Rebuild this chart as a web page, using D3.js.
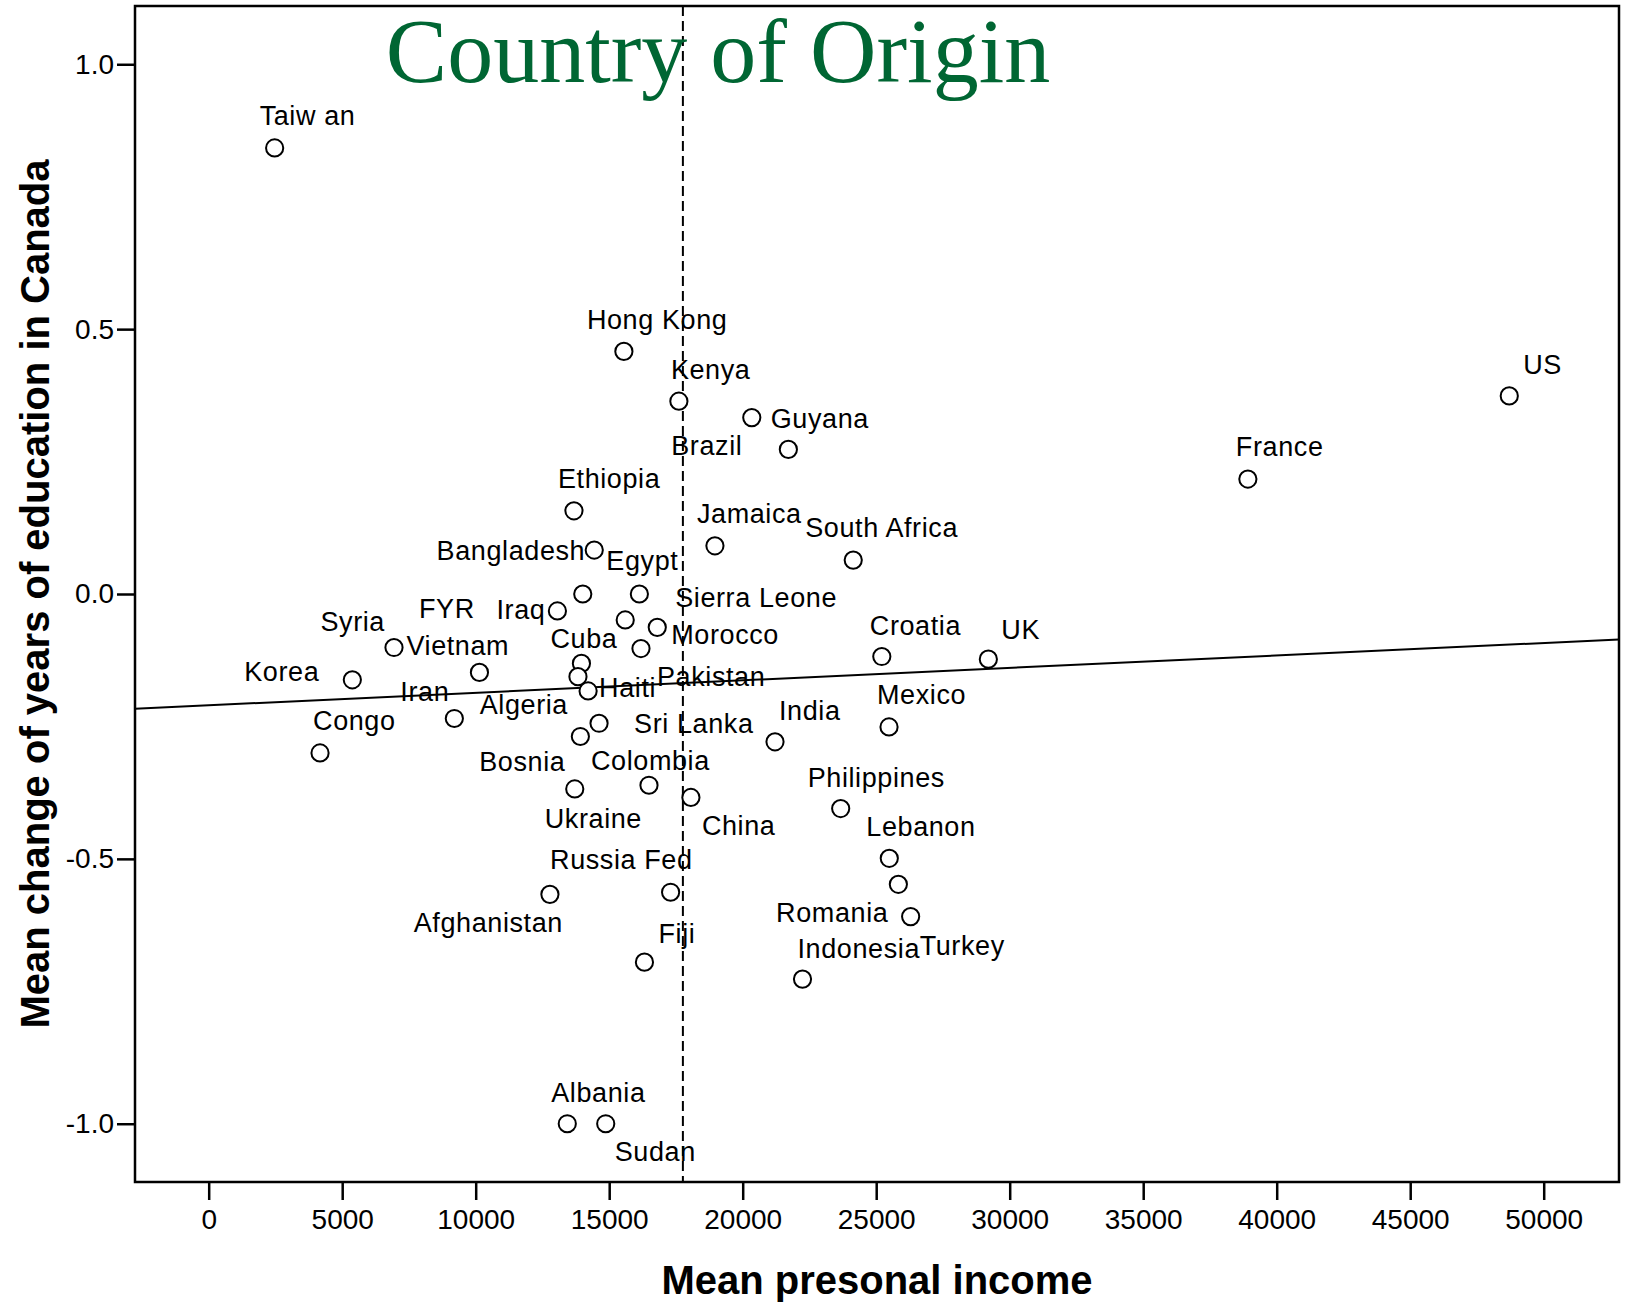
<!DOCTYPE html>
<html>

<head>
    <meta charset="utf-8">
    <title>Country of Origin</title>
    <script src="https://d3js.org/d3.v7.min.js"></script>
    <style>
        body {
            margin: 0;
            background: white;
        }

        .axis text {
            font-family: "Liberation Sans", Arial, sans-serif;
            font-size: 28px;
            fill: black;
        }

        .axis line {
            stroke: black;
            stroke-width: 2.5px;
        }

        .frame {
            fill: none;
            stroke: black;
            stroke-width: 2.5px;
        }

        .dot {
            fill: white;
            stroke: black;
            stroke-width: 2px;
        }

        .label {
            font-family: "Liberation Sans", Arial, sans-serif;
            font-size: 27px;
            letter-spacing: 0.6px;
            fill: black;
        }

        .axis-title {
            font-family: "Liberation Sans", Arial, sans-serif;
            font-size: 40px;
            font-weight: bold;
            fill: black;
        }

        .title {
            font-family: "Liberation Serif", "Times New Roman", serif;
            font-size: 92px;
            fill: #006633;
        }

        .fit {
            stroke: black;
            stroke-width: 2px;
        }

        .mean {
            stroke: black;
            stroke-width: 2px;
            stroke-dasharray: 10, 5;
        }
    </style>
</head>

<body>
    <script>
        // values
        const countries = ["Taiw an", "Hong Kong", "Kenya", "Guyana", "Brazil", "US", "France", "Ethiopia",
            "Jamaica", "South Africa", "Bangladesh", "FYR", "Egypt", "Iraq", "Sierra Leone", "Morocco",
            "Syria", "Vietnam", "Cuba", "Pakistan", "Korea", "Algeria", "Haiti", "Iran", "Sri Lanka",
            "Bosnia", "Congo", "India", "Mexico", "Croatia", "UK", "Ukraine", "Colombia", "China",
            "Philippines", "Lebanon", "Romania", "Turkey", "Indonesia", "Afghanistan", "Russia Fed",
            "Fiji", "Albania", "Sudan"];

        const income = [2470, 15550, 17610, 20340, 21710, 48710, 38920, 13680,
            18960, 24140, 14440, 14010, 16130, 13060, 15600, 16800,
            6940, 10140, 13960, 16190, 5380, 13830, 14210, 9200, 14620,
            13920, 4170, 21210, 25480, 25210, 29200, 13710, 16490, 18060,
            23670, 25490, 25830, 26290, 22240, 12780, 17300,
            16320, 13430, 14870];

        const eduChange = [0.842, 0.458, 0.364, 0.333, 0.273, 0.374, 0.217, 0.157,
            0.091, 0.064, 0.083, 0.000, 0.000, -0.032, -0.049, -0.063,
            -0.101, -0.148, -0.131, -0.103, -0.162, -0.156, -0.183, -0.235, -0.244,
            -0.269, -0.300, -0.279, -0.251, -0.118, -0.123, -0.368, -0.361, -0.384,
            -0.405, -0.499, -0.548, -0.609, -0.727, -0.567, -0.563,
            -0.695, -1.000, -1.000];

        const xTicks = [0, 5000, 10000, 15000, 20000, 25000, 30000, 35000, 40000, 45000, 50000];
        const yTicks = [-1.0, -0.5, 0.0, 0.5, 1.0];

        // fit line and mean income line
        const fitIntercept = -0.210;
        const fitSlope = 0.00000235;
        const meanIncome = 17760;

        // where each label sits next to its point: [dx, dy, anchor]
        const labelPlace = [[-15, -23, "start"], [-37, -22, "start"], [-8, -22, "start"], [19, 10, "start"],
            [-46, 6, "end"], [14, -22, "start"], [-12, -23, "start"], [-16, -23, "start"],
            [-18, -23, "start"], [-48, -23, "start"], [-9, 10, "end"], [-108, 24, "end"],
            [-33, -24, "start"], [-12, 8, "end"], [50, -13, "start"], [14, 17, "start"],
            [-9, -17, "end"], [-73, -17, "start"], [-31, -15, "start"], [16, 37, "start"],
            [-33, 1, "end"], [-10, 37, "end"], [11, 6, "start"], [-54, -17, "start"], [35, 10, "start"],
            [-15, 35, "end"], [-7, -23, "start"], [4, -22, "start"], [-12, -23, "start"],
            [-12, -22, "start"], [13, -20, "start"], [-30, 39, "start"], [-58, -15, "start"],
            [11, 38, "start"], [-33, -22, "start"], [-23, -22, "start"], [-10, 38, "end"],
            [9, 38, "start"], [-5, -21, "start"], [13, 38, "end"], [22, -23, "end"],
            [14, -19, "start"], [-16, -22, "start"], [9, 37, "start"]];

        let width = 1626;
        let height = 1304;
        let plotLeft = 135, plotRight = 1619, plotTop = 6, plotBottom = 1182;

        let data = countries.map((c, i) => ({ name: c, income: income[i], edu: eduChange[i], place: labelPlace[i] }));

        let svg = d3.select('body').append('svg')
            .attr('width', width)
            .attr('height', height);

        let x_scale = d3.scaleLinear()
            .domain([-2760, 52820])
            .range([plotLeft, plotRight]);

        let y_scale = d3.scaleLinear()
            .domain([-1.11, 1.11])
            .range([plotBottom, plotTop]);

        // axes
        let x_axis = d3.axisBottom(x_scale)
            .tickValues(xTicks)
            .tickFormat(d => String(d))
            .tickSize(18)
            .tickPadding(9);
        svg.append("g")
            .attr("class", "x axis")
            .attr("transform", "translate(0," + plotBottom + ")")
            .call(x_axis)
            .call(g => g.select(".domain").remove());

        let y_axis = d3.axisLeft(y_scale)
            .tickValues(yTicks)
            .tickFormat(d => d.toFixed(1))
            .tickSize(18)
            .tickPadding(3);
        svg.append("g")
            .attr("class", "y axis")
            .attr("transform", "translate(" + plotLeft + ",0)")
            .call(y_axis)
            .call(g => g.select(".domain").remove());

        svg.selectAll(".axis").attr("font-family", null).attr("font-size", null);

        // mean income, dashed
        svg.append("line")
            .attr("class", "mean")
            .attr("x1", x_scale(meanIncome))
            .attr("x2", x_scale(meanIncome))
            .attr("y1", plotTop)
            .attr("y2", plotBottom);

        // linear fit across the whole frame
        let xd = x_scale.domain();
        svg.append("line")
            .attr("class", "fit")
            .attr("x1", x_scale(xd[0]))
            .attr("y1", y_scale(fitIntercept + fitSlope * xd[0]))
            .attr("x2", x_scale(xd[1]))
            .attr("y2", y_scale(fitIntercept + fitSlope * xd[1]));

        // frame
        svg.append("rect")
            .attr("class", "frame")
            .attr("x", plotLeft)
            .attr("y", plotTop)
            .attr("width", plotRight - plotLeft)
            .attr("height", plotBottom - plotTop);

        // points
        svg.selectAll("circle.dot")
            .data(data)
            .join("circle")
            .attr("class", "dot")
            .attr("cx", d => x_scale(d.income))
            .attr("cy", d => y_scale(d.edu))
            .attr("r", 8.6);

        svg.selectAll("text.label")
            .data(data)
            .join("text")
            .attr("class", "label")
            .attr("x", d => x_scale(d.income) + d.place[0])
            .attr("y", d => y_scale(d.edu) + d.place[1])
            .attr("text-anchor", d => d.place[2])
            .text(d => d.name);

        // titles
        svg.append("text")
            .attr("class", "title")
            .attr("x", 718)
            .attr("y", 82)
            .attr("text-anchor", "middle")
            .text("Country of Origin");

        svg.append("text")
            .attr("class", "axis-title")
            .attr("x", (plotLeft + plotRight) / 2)
            .attr("y", 1294)
            .attr("text-anchor", "middle")
            .text("Mean presonal income");

        svg.append("text")
            .attr("class", "axis-title")
            .attr("transform", "translate(49," + ((plotTop + plotBottom) / 2) + ") rotate(-90)")
            .attr("text-anchor", "middle")
            .text("Mean change of years of education in Canada");
    </script>
</body>

</html>
